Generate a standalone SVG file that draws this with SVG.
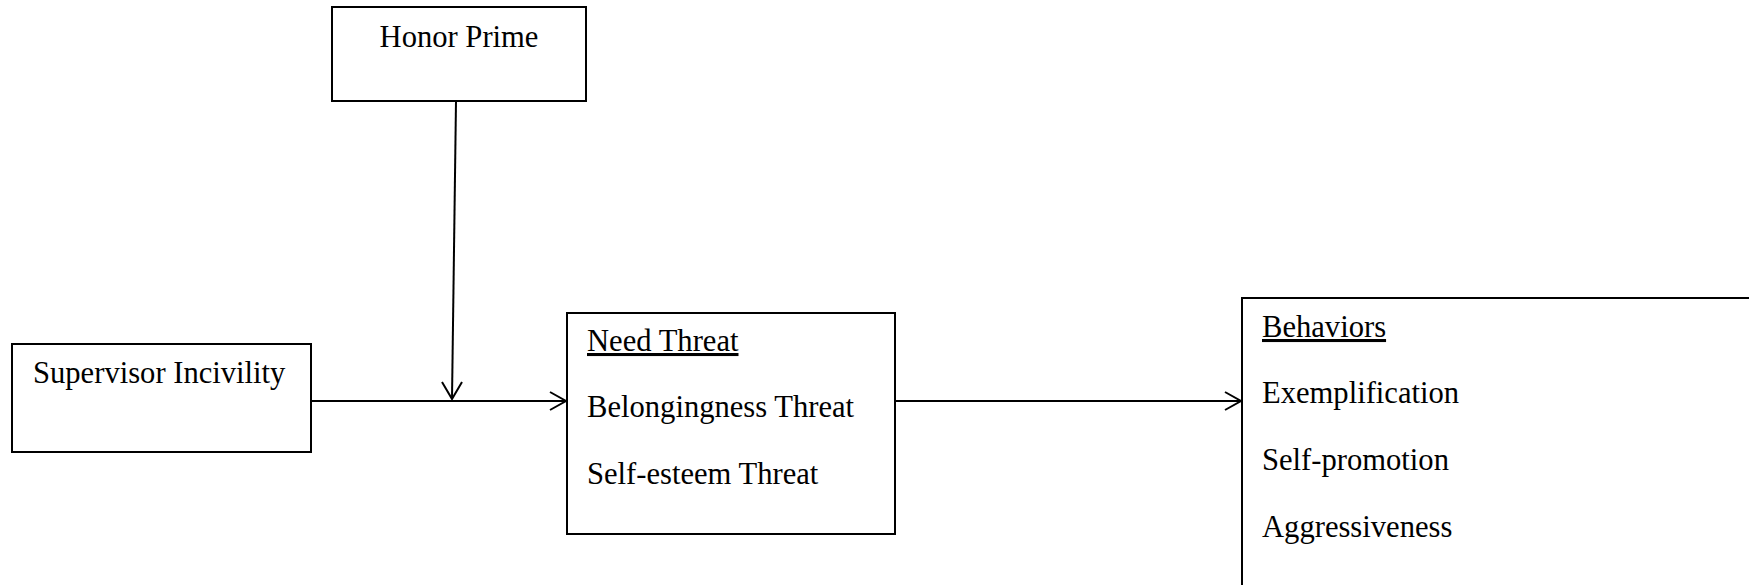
<svg xmlns="http://www.w3.org/2000/svg" width="1749" height="585" viewBox="0 0 1749 585">
<style>
.box{fill:#fff;stroke:#000;stroke-width:2}
.t{font-family:"Liberation Serif","Times New Roman",serif;font-size:30.6px;fill:#000}
.u{text-decoration:underline}
.c{fill:none;stroke:#000;stroke-width:2}
</style>
<rect width="1749" height="585" fill="#fff"/>
<g id="connectors">
<line class="c" x1="456" y1="101" x2="452" y2="399"/>
<polyline class="c" points="442,382 452,399 462,382"/>
<line class="c" x1="311" y1="401" x2="566" y2="401"/>
<polyline class="c" points="550,392 566,401 550,410"/>
<line class="c" x1="895" y1="401" x2="1241" y2="401"/>
<polyline class="c" points="1225,392 1241,401 1225,410"/>
</g>
<g id="honor-prime">
<rect class="box" x="332" y="7" width="254" height="94"/>
<text class="t" x="459" y="47" text-anchor="middle">Honor Prime</text>
</g>
<g id="supervisor-incivility">
<rect class="box" x="12" y="344" width="299" height="108"/>
<text class="t" x="33" y="383">Supervisor Incivility</text>
</g>
<g id="need-threat">
<rect class="box" x="567" y="313" width="328" height="221"/>
<text class="t u" x="587" y="351">Need Threat</text>
<text class="t" x="587" y="417">Belongingness Threat</text>
<text class="t" x="587" y="484">Self-esteem Threat</text>
</g>
<g id="behaviors">
<rect class="box" x="1242" y="298" width="520" height="300"/>
<text class="t u" x="1262" y="337">Behaviors</text>
<text class="t" x="1262" y="403">Exemplification</text>
<text class="t" x="1262" y="470">Self-promotion</text>
<text class="t" x="1262" y="537">Aggressiveness</text>
</g>
</svg>
